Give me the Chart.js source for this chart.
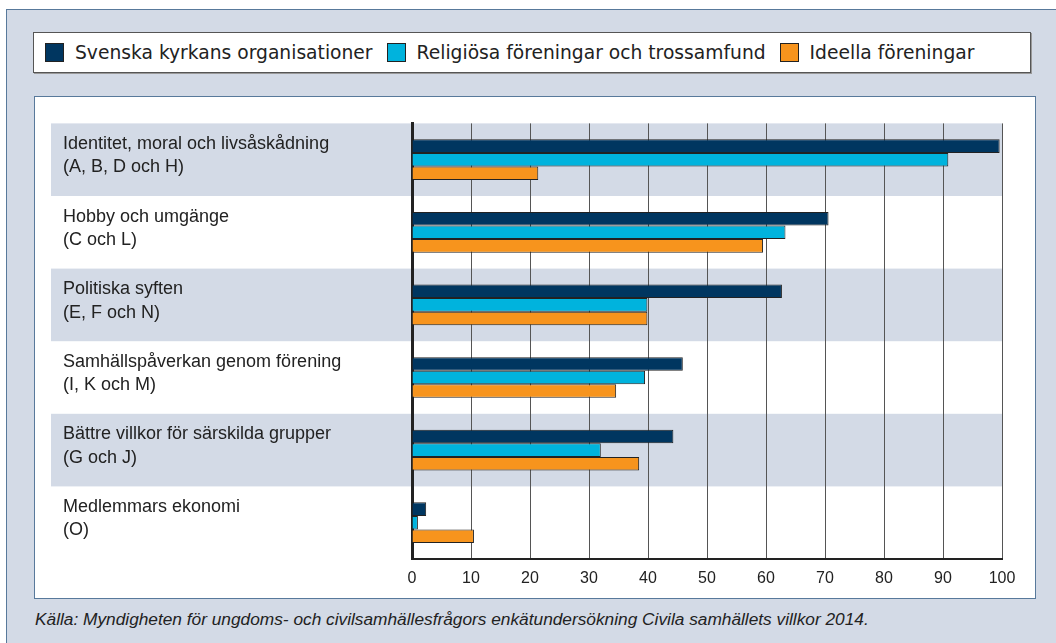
<!DOCTYPE html>
<html>
<head>
    <title>Syften per organisationstyp</title>
    <script src="https://cdn.jsdelivr.net/npm/chart.js"></script>
    <style>
        body { margin: 0; width: 1056px; height: 643px; overflow: hidden; background: #fff; position: relative; }
        #outer { position: absolute; left: 6px; top: 9px; width: 1070px; height: 650px; background: #d3dae6; border: 1px solid #58799b; }
        #legend { position: absolute; left: 33px; top: 32px; width: 996px; height: 39px; background: #fff;
                  border: 1px solid #555; box-shadow: 1px 1px 0 #999; display: flex; align-items: center;
                  font-family: "DejaVu Sans", sans-serif; font-size: 18.7px; color: #222; }
        .item { display: flex; align-items: center; margin-left: 11px; margin-right: 3px; }
        .box { width: 17px; height: 17px; border: 1px solid #222; margin-right: 11px; }
        #plot { position: absolute; left: 34px; top: 96px; width: 1000px; height: 501px; background: #fff; border: 1px solid #58799b; }
        #source { position: absolute; left: 35px; top: 609px; line-height: 20px; font-family: "Liberation Sans", Arial, sans-serif;
                  font-style: italic; font-size: 17.3px; color: #222; }
    </style>
</head>
<body>
    <div id="outer"></div>
    <div id="legend"></div>
    <div id="plot"><canvas id="chart" width="1000" height="501"></canvas></div>
    <div id="source">Källa: Myndigheten för ungdoms- och civilsamhällesfrågors enkätundersökning Civila samhällets villkor 2014.</div>

    <script>
        // kategorier (två rader per etikett)
        var categories = [
            ['Identitet, moral och livsåskådning', '(A, B, D och H)'],
            ['Hobby och umgänge', '(C och L)'],
            ['Politiska syften', '(E, F och N)'],
            ['Samhällspåverkan genom förening', '(I, K och M)'],
            ['Bättre villkor för särskilda grupper', '(G och J)'],
            ['Medlemmars ekonomi', '(O)']
        ];
        var seriesNames = ['Svenska kyrkans organisationer', 'Religiösa föreningar och trossamfund', 'Ideella föreningar'];
        var seriesColors = ['#003660', '#00b3dd', '#f7941d'];
        var svenskaKyrkan = [99.6, 70.6, 62.7, 45.9, 44.3, 2.4];
        var religiosa = [90.9, 63.3, 39.9, 39.5, 32.0, 1.0];
        var ideella = [21.4, 59.5, 39.9, 34.6, 38.5, 10.5];
        var xTicks = [0, 10, 20, 30, 40, 50, 60, 70, 80, 90, 100];

        var seriesValues = [svenskaKyrkan, religiosa, ideella];

        // legend i html
        var legend = document.getElementById('legend');
        seriesNames.forEach(function (name, i) {
            var item = document.createElement('div');
            item.className = 'item';
            item.innerHTML = '<div class="box" style="background:' + seriesColors[i] + '"></div><span>' + name + '</span>';
            legend.appendChild(item);
        });

        // grå band bakom varannan kategori
        var bandPlugin = {
            id: 'bands',
            beforeDraw: function (chart) {
                var ctx = chart.ctx;
                var y = chart.scales.y;
                var area = chart.chartArea;
                var step = (area.bottom - area.top) / categories.length;
                ctx.save();
                ctx.fillStyle = '#d3dae6';
                for (var i = 0; i < categories.length; i += 2) {
                    var c = y.getPixelForValue(i);
                    ctx.fillRect(16, c - step / 2, area.right - 16, step);
                }
                ctx.restore();
            }
        };

        var datasets = seriesNames.map(function (name, i) {
            return {
                label: name,
                data: seriesValues[i],
                backgroundColor: seriesColors[i],
                borderColor: '#222',
                borderWidth: 1,
                borderSkipped: 'start',
                categoryPercentage: 0.56,
                barPercentage: 1.0
            };
        });

        new Chart(document.getElementById('chart'), {
            type: 'bar',
            data: { labels: categories, datasets: datasets },
            plugins: [bandPlugin],
            options: {
                indexAxis: 'y',
                responsive: false,
                animation: false,
                layout: { padding: { left: 28, top: 24, right: 33, bottom: 0 } },
                plugins: { legend: { display: false }, tooltip: { enabled: false } },
                scales: {
                    x: {
                        min: 0,
                        max: 100,
                        afterFit: function (s) { s.height = 39; },
                        afterBuildTicks: function (s) { s.ticks = xTicks.map(function (v) { return { value: v }; }); },
                        grid: { color: '#555', lineWidth: 1, drawTicks: false },
                        border: { display: true, color: '#222', width: 2 },
                        ticks: { padding: 10, color: '#222', font: { family: 'Liberation Sans', size: 16 } }
                    },
                    y: {
                        afterFit: function (s) { s.width = 349; },
                        grid: { display: false, drawTicks: false },
                        border: { display: true, color: '#222', width: 3 },
                        ticks: {
                            crossAlign: 'far',
                            color: '#222',
                            labelOffset: -4,
                            font: { family: 'Liberation Sans', size: 18, lineHeight: 1.3 }
                        }
                    }
                }
            }
        });
    </script>
</body>
</html>
